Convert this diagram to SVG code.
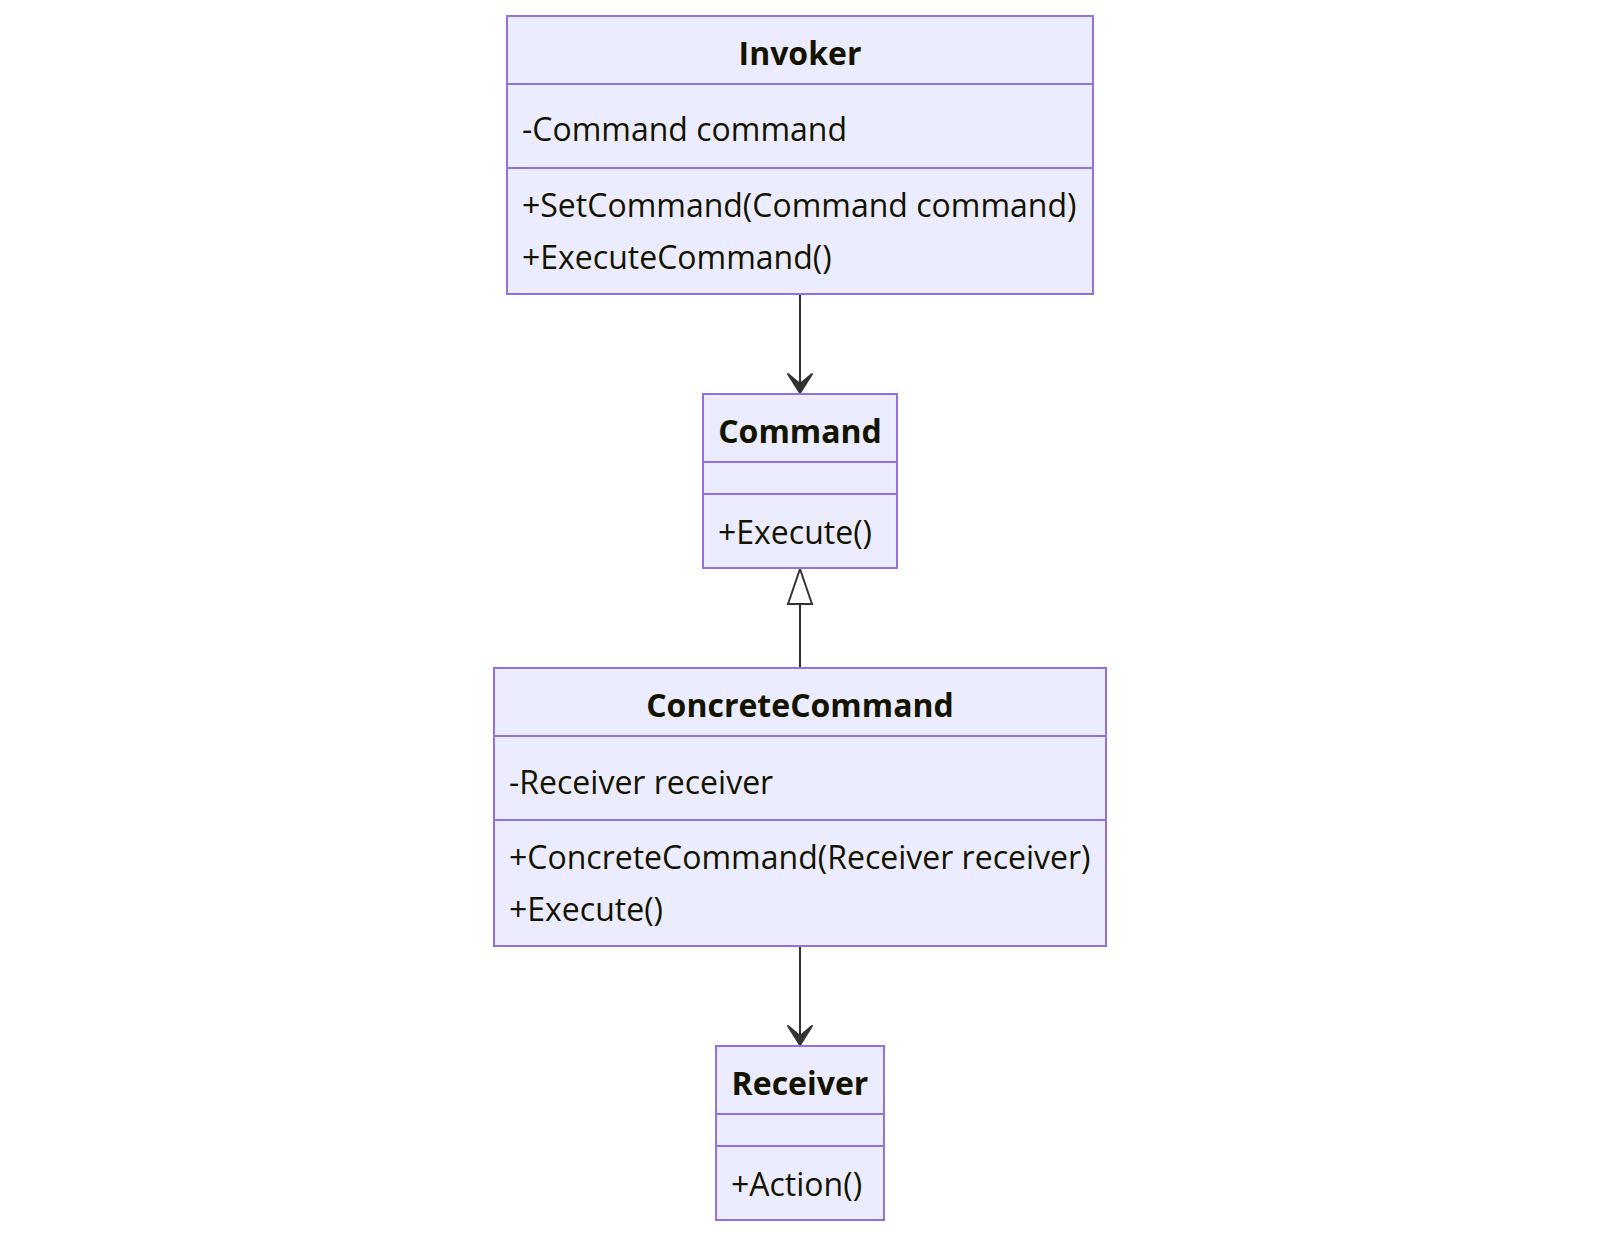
<svg xmlns="http://www.w3.org/2000/svg" width="1600" height="1236" viewBox="0 0 1600 1236">
<defs>
<style>
.box{fill:#ECECFF;stroke:#9370DB;stroke-width:2}
.div{stroke:#9370DB;stroke-width:2}
.t{font-family:"Open Sans","Noto Sans",sans-serif;font-size:32px;fill:#131300}
.h{font-weight:bold;text-anchor:middle}
.edge{stroke:#333;stroke-width:2;fill:none}
</style>
<marker id="dep" markerUnits="userSpaceOnUse" viewBox="-22 -14 24 28" refX="0" refY="0" markerWidth="24" markerHeight="28" orient="auto" overflow="visible">
<polygon points="0,0 -19,-12 -9,0 -19,12" fill="#333" stroke="#333" stroke-width="2" stroke-linejoin="round"/>
</marker>
<marker id="ext" markerUnits="userSpaceOnUse" viewBox="-37 -14 40 28" refX="0" refY="0" markerWidth="40" markerHeight="28" orient="auto" overflow="visible">
<polygon points="0,0 -35,-12 -35,12" fill="#ffffff" stroke="#333" stroke-width="2"/>
</marker>
</defs>
<rect width="1600" height="1236" fill="#ffffff"/>
<g id="connectors">
<line class="edge" x1="800" y1="294" x2="800" y2="393" marker-end="url(#dep)"/>
<line class="edge" x1="800" y1="668" x2="800" y2="569" marker-end="url(#ext)"/>
<line class="edge" x1="800" y1="946" x2="800" y2="1045" marker-end="url(#dep)"/>
</g>
<g id="Invoker">
<rect class="box" x="507" y="16" width="586" height="278"/>
<line class="div" x1="507" y1="84" x2="1093" y2="84"/>
<line class="div" x1="507" y1="168" x2="1093" y2="168"/>
<text class="t h" x="800" y="65">Invoker</text>
<text class="t" x="522" y="141">-Command command</text>
<text class="t" x="522" y="217">+SetCommand(Command command)</text>
<text class="t" x="522" y="269">+ExecuteCommand()</text>
</g>
<g id="Command">
<rect class="box" x="703" y="394" width="194" height="174"/>
<line class="div" x1="703" y1="462" x2="897" y2="462"/>
<line class="div" x1="703" y1="494" x2="897" y2="494"/>
<text class="t h" x="800" y="443">Command</text>
<text class="t" x="718" y="544">+Execute()</text>
</g>
<g id="ConcreteCommand">
<rect class="box" x="494" y="668" width="612" height="278"/>
<line class="div" x1="494" y1="736" x2="1106" y2="736"/>
<line class="div" x1="494" y1="820" x2="1106" y2="820"/>
<text class="t h" x="800" y="717">ConcreteCommand</text>
<text class="t" x="509" y="794">-Receiver receiver</text>
<text class="t" x="509" y="869">+ConcreteCommand(Receiver receiver)</text>
<text class="t" x="509" y="921">+Execute()</text>
</g>
<g id="Receiver">
<rect class="box" x="716" y="1046" width="168" height="174"/>
<line class="div" x1="716" y1="1114" x2="884" y2="1114"/>
<line class="div" x1="716" y1="1146" x2="884" y2="1146"/>
<text class="t h" x="800" y="1095">Receiver</text>
<text class="t" x="731" y="1196">+Action()</text>
</g>
</svg>
